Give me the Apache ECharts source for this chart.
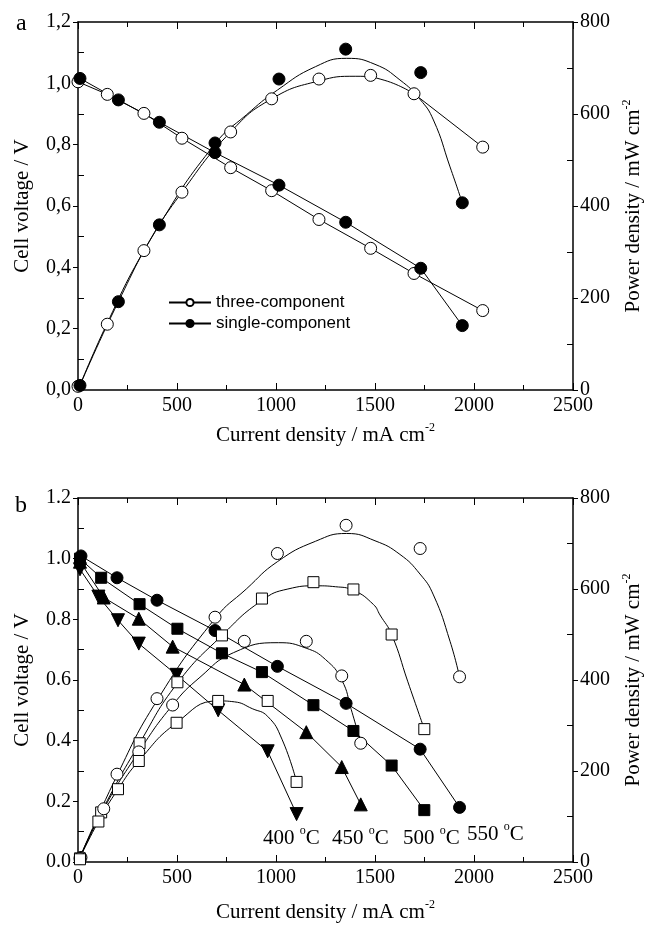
<!DOCTYPE html>
<html>
<head>
<meta charset="utf-8">
<title>Cell voltage and power density</title>
<script src="https://cdn.jsdelivr.net/npm/echarts@6/dist/echarts.min.js"></script>
<style>
  html, body { margin: 0; padding: 0; background: #fff; }
  #chart { width: 665px; height: 926px; }
</style>
</head>
<body>
<div id="chart"></div>
<script>
// panel a: three-component vs single-component
const aThreeI = [0, 148, 333, 525, 771, 978, 1217, 1478, 1697, 2044];
const aThreeV = [1.005, 0.964, 0.902, 0.821, 0.725, 0.650, 0.556, 0.462, 0.380, 0.259];
const aThreeP = [8, 143, 303, 430, 561, 633, 676, 684, 644, 528];
const aSingleI = [10, 204, 411, 692, 1015, 1352, 1731, 1941];
const aSingleV = [1.016, 0.946, 0.873, 0.774, 0.668, 0.547, 0.397, 0.210];
const aSingleP = [10, 192, 359, 537, 676, 741, 690, 407];
// fitted power curves as drawn in panel a
const aThreeFitI = [0, 145, 333, 525, 771, 978, 1217, 1400, 1550, 1697];
const aThreeFitP = [0, 143, 303, 430, 561, 633, 672, 682, 673, 644];
const aThreeTailI = [1697, 2044];
const aThreeTailP = [644, 528];
const aSingleFitI = [0, 204, 411, 692, 850, 1007, 1200, 1357, 1500, 1626, 1727, 1795, 1879, 1941];
const aSingleFitP = [0, 192, 359, 535, 598, 652, 703, 721, 708, 674, 632, 587, 485, 407];

// panel b: single-component at four temperatures
const bI550 = [15, 197, 399, 692, 1007, 1354, 1728, 1927];
const bV550 = [1.009, 0.937, 0.863, 0.763, 0.645, 0.523, 0.372, 0.180];
const bP550 = [10, 193, 359, 538, 678, 740, 689, 407];
const bI500 = [10, 117, 311, 502, 727, 929, 1189, 1391, 1584, 1749];
const bV500 = [1.000, 0.937, 0.850, 0.769, 0.688, 0.626, 0.517, 0.432, 0.318, 0.171];
const bP500 = [8, 109, 261, 395, 498, 579, 615, 599, 500, 292];
const bI450 = [10, 130, 307, 478, 840, 1153, 1332, 1428];
const bV450 = [0.990, 0.872, 0.802, 0.710, 0.585, 0.428, 0.313, 0.190];
const bP450 = [8, 117, 242, 345, 485, 485, 409, 261];
const bI400 = [10, 103, 202, 307, 498, 708, 958, 1104];
const bV400 = [0.965, 0.875, 0.797, 0.720, 0.617, 0.500, 0.365, 0.158];
const bP400 = [6, 89, 160, 222, 306, 354, 354, 176];
// fitted power curves as drawn in panel b
const bFitI550 = [0, 197, 399, 692, 850, 1007, 1200, 1357, 1500, 1626, 1727, 1795, 1879, 1927];
const bFitP550 = [0, 190, 355, 535, 600, 660, 705, 722, 706, 676, 633, 587, 485, 407];
const bFitI500 = [0, 117, 311, 502, 727, 929, 1060, 1205, 1300, 1391, 1492, 1525, 1584, 1666, 1749];
const bFitP500 = [0, 109, 261, 393, 498, 575, 600, 607, 605, 597, 566, 543, 500, 396, 292];
const bFitI450 = [0, 130, 307, 478, 616, 785, 1012, 1152, 1250, 1332, 1380, 1428];
const bFitP450 = [0, 117, 242, 345, 406, 460, 482, 470, 445, 400, 335, 261];
const bFitI400 = [0, 103, 202, 307, 498, 708, 790, 880, 958, 1030, 1104];
const bFitP400 = [0, 89, 160, 222, 306, 354, 352, 337, 320, 270, 176];

const tempLabels = ['400', '450', '500', '550'];
const xTicks = [0, 500, 1000, 1500, 2000, 2500];

const serif = 'Liberation Serif';
const black = '#000';
const supRich = {
  sup: { fontSize: 12, fontFamily: serif, color: black, fill: black, verticalAlign: 'top', lineHeight: 12 }
};

function pairs(xs, ys) {
  return xs.map((x, i) => [x, ys[i]]);
}

function bottomAxis(g, gap) {
  return {
    gridIndex: g, type: 'value', position: 'bottom',
    min: xTicks[0], max: xTicks[xTicks.length - 1], interval: 500,
    axisLine: { show: true, onZero: false, lineStyle: { color: black, width: 1.5 } },
    axisTick: { show: true, inside: true, length: 7, lineStyle: { color: black } },
    minorTick: { show: true, splitNumber: 2, length: 5, lineStyle: { color: black } },
    splitLine: { show: false },
    axisLabel: { color: black, fontFamily: serif, fontSize: 20, margin: 6, formatter: v => String(v) },
    name: 'Current density / mA cm{sup|-2}',
    nameLocation: 'middle', nameGap: gap,
    nameTextStyle: { color: black, fontFamily: serif, fontSize: 21, lineHeight: 26, rich: supRich }
  };
}

function topAxis(g) {
  return {
    gridIndex: g, type: 'value', position: 'top', min: 0, max: 2500, interval: 500,
    axisLine: { show: true, onZero: false, lineStyle: { color: black, width: 1.5 } },
    axisTick: { show: true, inside: true, length: 7, lineStyle: { color: black } },
    minorTick: { show: true, splitNumber: 2, length: 5, lineStyle: { color: black } },
    splitLine: { show: false },
    axisLabel: { show: false }
  };
}

function voltAxis(g, sep) {
  return {
    gridIndex: g, type: 'value', position: 'left', min: 0, max: 1.2, interval: 0.2,
    axisLine: { show: true, onZero: false, lineStyle: { color: black, width: 1.5 } },
    axisTick: { show: true, inside: false, length: 5, lineStyle: { color: black } },
    minorTick: { show: true, splitNumber: 2, length: -6, lineStyle: { color: black } },
    splitLine: { show: false },
    axisLabel: {
      color: black, fontFamily: serif, fontSize: 20, margin: 7,
      formatter: v => v.toFixed(1).replace('.', sep)
    },
    name: 'Cell voltage / V', nameLocation: 'middle', nameRotate: 90, nameGap: 45,
    nameTextStyle: { color: black, fontFamily: serif, fontSize: 21 }
  };
}

function powerAxis(g) {
  return {
    gridIndex: g, type: 'value', position: 'right', min: 0, max: 800, interval: 200,
    axisLine: { show: true, onZero: false, lineStyle: { color: black, width: 1.5 } },
    axisTick: { show: true, inside: false, length: 5, lineStyle: { color: black } },
    minorTick: { show: true, splitNumber: 2, length: -6, lineStyle: { color: black } },
    splitLine: { show: false },
    axisLabel: { color: black, fontFamily: serif, fontSize: 20, margin: 7 },
    name: 'Power density / mW cm{sup|-2}', nameLocation: 'middle', nameRotate: 90, nameGap: 42,
    nameTextStyle: { color: black, fontFamily: serif, fontSize: 21, lineHeight: 26, rich: supRich }
  };
}

const openStyle = { color: '#fff', borderColor: black, borderWidth: 1, opacity: 1 };
const filledStyle = { color: black, borderColor: black, borderWidth: 1, opacity: 1 };

// line through the markers (voltage curves)
function markerLine(name, g, xs, ys, symbol, size, style, rotate) {
  return {
    name: name, type: 'line', xAxisIndex: g * 2, yAxisIndex: g * 2,
    data: pairs(xs, ys), symbol: symbol, symbolSize: size, symbolRotate: rotate || 0,
    showSymbol: true, itemStyle: style,
    lineStyle: { color: black, width: 1 }, z: 3, animation: false
  };
}

// markers only (power points)
function markers(name, g, xs, ys, symbol, size, style) {
  return {
    name: name, type: 'scatter', xAxisIndex: g * 2, yAxisIndex: g * 2 + 1,
    data: pairs(xs, ys), symbol: symbol, symbolSize: size,
    itemStyle: style, z: 4, animation: false
  };
}

// fitted curve, no markers
function fitCurve(name, g, xs, ys, smooth) {
  return {
    name: name, type: 'line', xAxisIndex: g * 2, yAxisIndex: g * 2 + 1,
    data: pairs(xs, ys), showSymbol: false, symbol: 'none', smooth: smooth,
    lineStyle: { color: black, width: 1 }, z: 2, silent: true, animation: false
  };
}

function tempText(t, x, y) {
  return {
    type: 'text', x: x, y: y, silent: true,
    style: {
      text: t + ' {sup|o}C', fill: black, fontFamily: serif, fontSize: 21, lineHeight: 26,
      verticalAlign: 'middle', align: 'left', rich: supRich
    }
  };
}

const chart = echarts.init(document.getElementById('chart'));
chart.setOption({
  animation: false,
  backgroundColor: '#fff',
  grid: [
    { left: 78, top: 22, width: 495, height: 368 },
    { left: 78, top: 498, width: 495, height: 369 }
  ],
  xAxis: [bottomAxis(0, 32), topAxis(0), bottomAxis(1, 37), topAxis(1)],
  yAxis: [voltAxis(0, ','), powerAxis(0), voltAxis(1, '.'), powerAxis(1)],
  legend: {
    data: ['three-component', 'single-component'],
    orient: 'vertical', left: 163, top: 289, itemWidth: 42, itemHeight: 9, itemGap: 4,
    selectedMode: false,
    textStyle: { color: black, fontFamily: 'Liberation Sans', fontSize: 17 }
  },
  graphic: [
    { type: 'text', x: 16, y: 24, style: { text: 'a', fill: black, fontFamily: serif, fontSize: 24, verticalAlign: 'middle' } },
    { type: 'text', x: 15, y: 506, style: { text: 'b', fill: black, fontFamily: serif, fontSize: 24, verticalAlign: 'middle' } },
    tempText(tempLabels[0], 263, 838),
    tempText(tempLabels[1], 332, 838),
    tempText(tempLabels[2], 403, 838),
    tempText(tempLabels[3], 467, 834)
  ],
  series: [
    // panel a
    markerLine('three-component', 0, aThreeI, aThreeV, 'circle', 12, openStyle),
    markerLine('single-component', 0, aSingleI, aSingleV, 'circle', 12, filledStyle),
    fitCurve('three-component fit', 0, aThreeFitI, aThreeFitP, 0.5),
    fitCurve('three-component tail', 0, aThreeTailI, aThreeTailP, false),
    fitCurve('single-component fit', 0, aSingleFitI, aSingleFitP, 0.5),
    markers('three-component power', 0, aThreeI, aThreeP, 'circle', 12, openStyle),
    markers('single-component power', 0, aSingleI, aSingleP, 'circle', 12, filledStyle),
    // panel b
    markerLine('550 V', 1, bI550, bV550, 'circle', 12, filledStyle),
    markerLine('500 V', 1, bI500, bV500, 'rect', 11, filledStyle),
    markerLine('450 V', 1, bI450, bV450, 'triangle', 13, filledStyle),
    markerLine('400 V', 1, bI400, bV400, 'triangle', 13, filledStyle, 180),
    fitCurve('550 fit', 1, bFitI550, bFitP550, 0.5),
    fitCurve('500 fit', 1, bFitI500, bFitP500, 0.5),
    fitCurve('450 fit', 1, bFitI450, bFitP450, 0.5),
    fitCurve('400 fit', 1, bFitI400, bFitP400, 0.5),
    markers('550 P', 1, bI550, bP550, 'circle', 12, openStyle),
    markers('500 P', 1, bI500, bP500, 'rect', 11, openStyle),
    markers('450 P', 1, bI450, bP450, 'circle', 12, openStyle),
    markers('400 P', 1, bI400, bP400, 'rect', 11, openStyle)
  ]
});
</script>
</body>
</html>
